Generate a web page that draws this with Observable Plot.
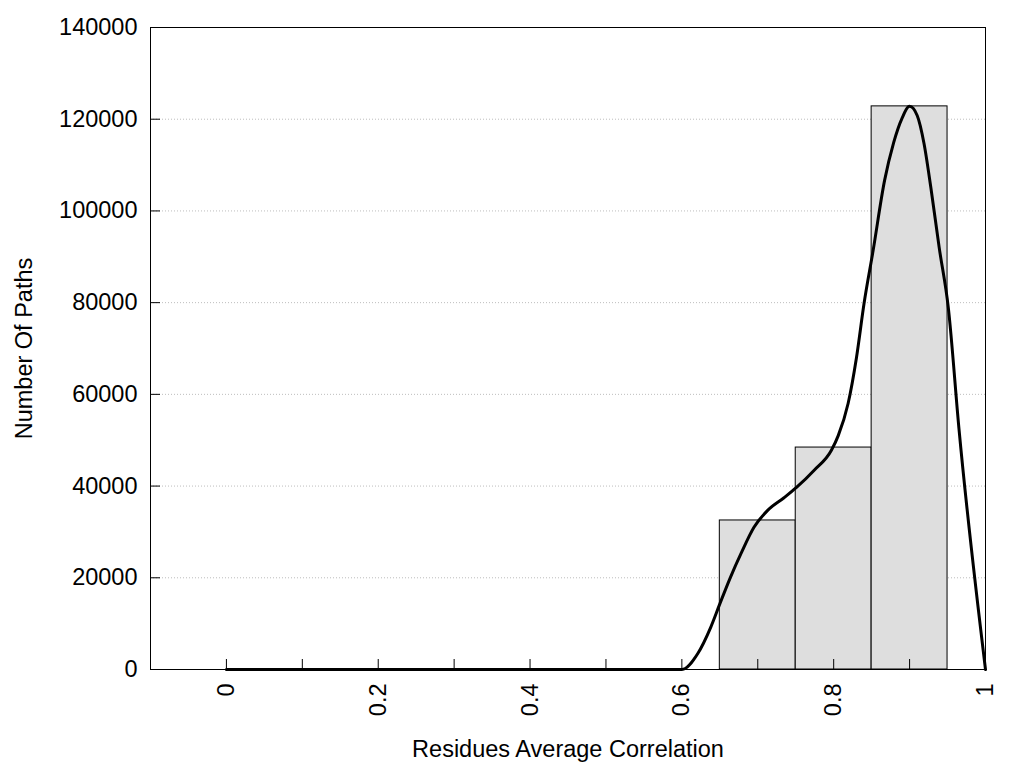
<!DOCTYPE html>
<html><head><meta charset="utf-8">
<script src="https://cdn.jsdelivr.net/npm/d3@7"></script>
<script src="https://cdn.jsdelivr.net/npm/@observablehq/plot@0.6"></script>
<style>
body{margin:0;background:#fff}
svg{font-family:"Liberation Sans",Arial,sans-serif}
</style>
</head><body><div id="chart"></div>
<script>
// Histogram bins
const binStarts = [0.65, 0.75, 0.85];
const binEnds   = [0.75, 0.85, 0.95];
const binCounts = [32500, 48400, 122800];

// Smoothed density curve
const curveX = [0, 0.1, 0.2, 0.3, 0.4, 0.5, 0.6, 0.621, 0.638, 0.650, 0.664, 0.678, 0.695, 0.713, 0.735, 0.751, 0.774, 0.797, 0.806, 0.819, 0.830, 0.840, 0.852, 0.867, 0.879, 0.890, 0.900, 0.910, 0.919, 0.928, 0.939, 0.951, 0.965, 1.0];
const curveY = [0, 0, 0, 0, 0, 0, 0, 3500, 9200, 14300, 20100, 25300, 31000, 34700, 37500, 39700, 43400, 47800, 51000, 58000, 68000, 79800, 91400, 106600, 114900, 120200, 122800, 120800, 114700, 105100, 92000, 78900, 52600, 0];

// Ticks
const yTicks = [0, 20000, 40000, 60000, 80000, 100000, 120000, 140000];
const xTicks = [0, 0.1, 0.2, 0.3, 0.4, 0.5, 0.6, 0.7, 0.8, 0.9, 1];
const xLabelTicks = [0, 0.2, 0.4, 0.6, 0.8, 1];

const xTitle = "Residues Average Correlation";
const yTitle = "Number Of Paths";

const bins = binStarts.map((s, i) => ({x1: s, x2: binEnds[i], y: binCounts[i]}));
const curve = curveX.map((x, i) => ({x, y: curveY[i]}));

const FS = 23.5;

const chart = Plot.plot({
  width: 1024, height: 768,
  marginLeft: 150, marginRight: 39, marginTop: 27, marginBottom: 99,
  x: {domain: [-0.1, 1]},
  y: {domain: [0, 140000]},
  style: {fontSize: FS + "px", fontFamily: "'Liberation Sans', Arial, sans-serif", background: "white", color: "black"},
  marks: [
    Plot.gridY(yTicks, {stroke: "#bdbdbd", strokeOpacity: 1, strokeDasharray: "1,2"}),
    Plot.rectY(bins, {x1: "x1", x2: "x2", y: "y", fill: "#dedede", stroke: "black", strokeWidth: 1}),
    Plot.line(curve, {x: "x", y: "y", stroke: "black", strokeWidth: 3, strokeLinejoin: "round", curve: "monotone-x"}),
    Plot.frame({stroke: "black", strokeWidth: 1}),
    Plot.axisY(yTicks, {anchor: "left", tickSize: -10, tickFormat: () => "", label: null, strokeWidth: 1}),
    Plot.axisY(yTicks, {anchor: "left", tickSize: 0, tickPadding: 13, tickFormat: d => String(d), label: null, fontSize: FS}),
    Plot.axisX(xTicks, {anchor: "bottom", tickSize: -10, tickFormat: () => "", label: null}),
    Plot.axisX(xLabelTicks, {anchor: "bottom", tickSize: 0, tickPadding: 14, tickRotate: -90, tickFormat: d => String(d), label: null, fontSize: FS}),
    Plot.text([xTitle], {frameAnchor: "bottom", dy: 80, lineAnchor: "middle", textAnchor: "middle", fontSize: FS}),
    Plot.text([yTitle], {frameAnchor: "left", dx: -126, rotate: -90, lineAnchor: "middle", textAnchor: "middle", fontSize: FS})
  ]
});
document.getElementById("chart").appendChild(chart);
</script>
</body></html>
